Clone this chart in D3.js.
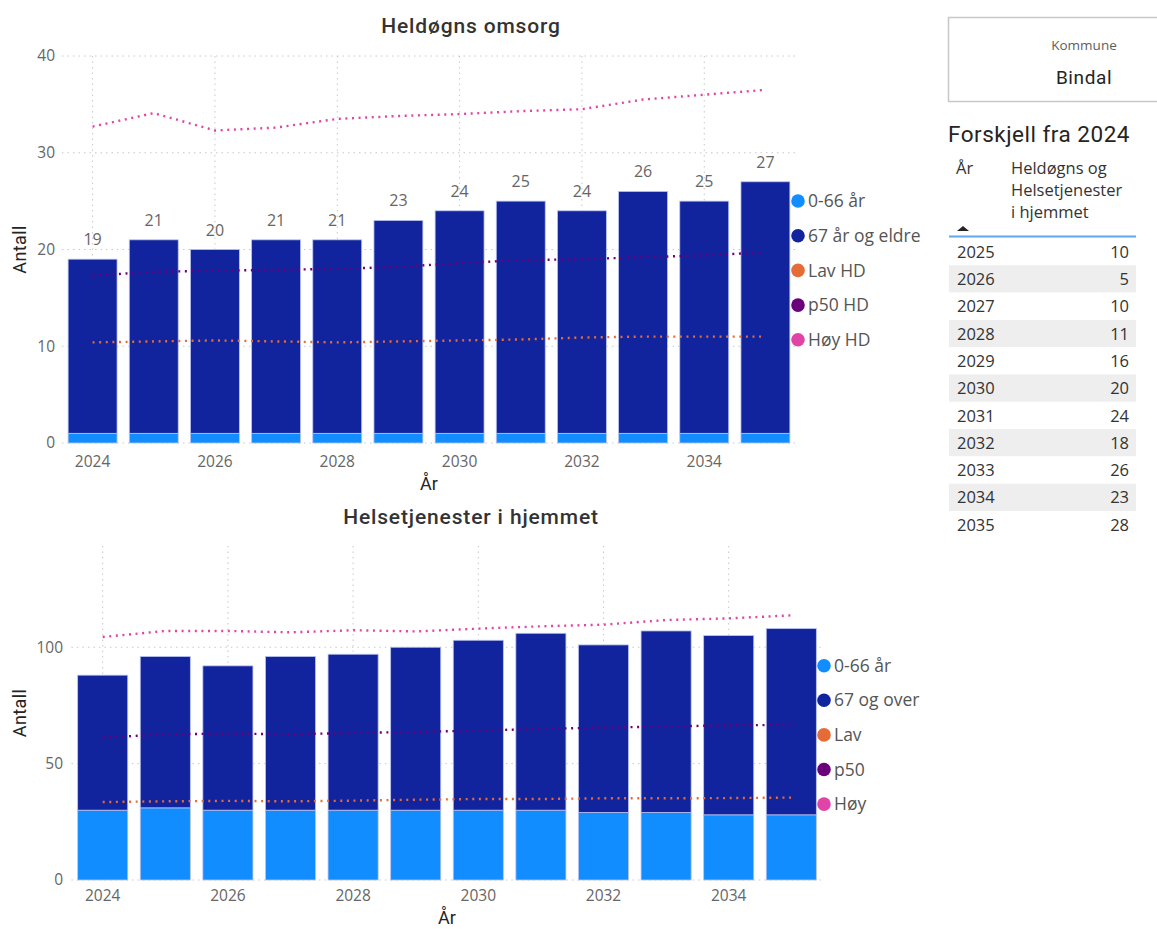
<!DOCTYPE html>
<html><head><meta charset="utf-8">
<script src="https://cdn.jsdelivr.net/npm/d3@7"></script>
<style>
body{margin:0;background:#fff;}
svg{display:block;font-family:"Open Sans",sans-serif;}
</style>
</head><body>
<svg id="c" width="1157" height="929"></svg>
<script>
const years=[2024,2025,2026,2027,2028,2029,2030,2031,2032,2033,2034,2035];
const xTickYears=[2024,2026,2028,2030,2032,2034];

// Heldøgns omsorg
const hdYoung=[1,1,1,1,1,1,1,1,1,1,1,1];
const hdOld=[18,20,19,20,20,22,23,24,23,25,24,26];
const hdLav=[10.4,10.5,10.6,10.5,10.4,10.5,10.6,10.7,10.9,11.0,11.0,11.0];
const hdP50=[17.3,17.7,17.8,17.9,18.0,18.2,18.6,18.9,19.0,19.2,19.4,19.7];
const hdHoy=[32.7,34.1,32.3,32.6,33.5,33.8,34.0,34.3,34.5,35.5,36.0,36.5];
const hdTicks=[0,10,20,30,40];

// Helsetjenester i hjemmet
const hjYoung=[30,31,30,30,30,30,30,30,29,29,28,28];
const hjOld=[58,65,62,66,67,70,73,76,72,78,77,80];
const hjLav=[33.5,33.8,34.0,33.8,34.1,34.5,34.8,34.8,35.1,35.1,35.2,35.4];
const hjP50=[61.2,62.6,62.9,62.6,63.2,63.6,64.2,64.9,65.5,65.9,66.5,66.6];
const hjHoy=[104.4,107.0,107.0,106.4,107.3,106.8,108.0,109.0,109.7,111.7,112.4,113.7];
const hjTicks=[0,50,100];

const hdLegend=["0-66 år","67 år og eldre","Lav HD","p50 HD","Høy HD"];
const hjLegend=["0-66 år","67 og over","Lav","p50","Høy"];

const colors={young:"#118DFF",old:"#12239E",lav:"#E66C37",p50:"#6B007B",hoy:"#E044A7"};
const legendColors=[colors.young,colors.old,colors.lav,colors.p50,colors.hoy];

const svg=d3.select("#c");

function drawChart(o){
  const g=svg.append("g");
  const x=d3.scaleBand().domain(years).range(o.xr).paddingInner(0.2).paddingOuter(0.1);
  const y=d3.scaleLinear().domain(o.yd).range(o.yr);
  // grid horizontal
  g.selectAll(".hg").data(o.ticks).join("line")
    .attr("x1",o.xr[0]).attr("x2",o.xr[1])
    .attr("y1",d=>y(d)).attr("y2",d=>y(d))
    .attr("stroke","#c8c8c8").attr("stroke-width",1).attr("stroke-dasharray","1.5,4");
  // grid vertical
  g.selectAll(".vg").data(xTickYears).join("line")
    .attr("x1",d=>x(d)+x.bandwidth()/2).attr("x2",d=>x(d)+x.bandwidth()/2)
    .attr("y1",o.yr[1]).attr("y2",o.yr[0])
    .attr("stroke","#c8c8c8").attr("stroke-width",1).attr("stroke-dasharray","1.5,4");
  // y tick labels
  const yAxis=d3.axisLeft(y).tickValues(o.ticks).tickSize(0).tickPadding(0);
  const ya=g.append("g").attr("transform",`translate(${o.yLabelX},0)`).call(yAxis);
  ya.select(".domain").remove();
  ya.selectAll("text").attr("font-size",15.5).attr("fill","#666").attr("font-family","Open Sans");
  // x tick labels
  const xAxis=d3.axisBottom(x).tickValues(xTickYears).tickSize(0).tickPadding(0);
  const xa=g.append("g").attr("transform",`translate(0,${o.xLabelY})`).call(xAxis);
  xa.select(".domain").remove();
  xa.selectAll("text").attr("font-size",15.5).attr("fill","#666").attr("font-family","Open Sans").attr("dy","0.35em");
  // bars
  const stacks=years.map((yr,i)=>({yr,young:o.young[i],old:o.old[i]}));
  g.selectAll(".by").data(stacks).join("rect")
    .attr("x",d=>x(d.yr)).attr("width",x.bandwidth())
    .attr("y",d=>y(d.young)).attr("height",d=>y(0)-y(d.young))
    .attr("fill",colors.young).attr("stroke","#b9c3f0").attr("stroke-width",0.8);
  g.selectAll(".bo").data(stacks).join("rect")
    .attr("x",d=>x(d.yr)).attr("width",x.bandwidth())
    .attr("y",d=>y(d.young+d.old)).attr("height",d=>y(d.young)-y(d.young+d.old))
    .attr("fill",colors.old).attr("stroke","#b9c3f0").attr("stroke-width",0.8);
  if(o.labels){
    g.selectAll(".dl").data(stacks).join("text")
      .attr("x",d=>x(d.yr)+x.bandwidth()/2).attr("y",d=>y(d.young+d.old)-14)
      .attr("text-anchor","middle").attr("font-size",16).attr("fill","#666")
      .text(d=>d.young+d.old);
  }
  // lines
  const line=d3.line().x((d,i)=>x(years[i])+x.bandwidth()/2).y(d=>y(d));
  [[o.lav,colors.lav],[o.p50,colors.p50],[o.hoy,colors.hoy]].forEach(([arr,c])=>{
    g.append("path").datum(arr).attr("d",line).attr("fill","none")
      .attr("stroke",c).attr("stroke-width",2.4).attr("stroke-dasharray","2,4.6");
  });
  // title
  g.append("text").attr("x",o.titleX).attr("y",o.titleY).attr("text-anchor","middle")
    .attr("font-family","Roboto").attr("font-weight",500).attr("font-size",21)
    .attr("letter-spacing","0.85px").attr("fill","#333")
    .text(o.title);
  // axis titles
  g.append("text").attr("x",(o.xr[0]+o.xr[1])/2).attr("y",o.xTitleY).attr("text-anchor","middle")
    .attr("font-family","Roboto").attr("font-size",18).attr("font-weight",400).attr("fill","#252423").text("År");
  g.append("text").attr("transform",`translate(26,${(o.yr[0]+o.yr[1])/2}) rotate(-90)`)
    .attr("text-anchor","middle").attr("font-family","Roboto").attr("font-size",18).attr("font-weight",400)
    .attr("letter-spacing","0.4px").attr("fill","#252423").text("Antall");
  // legend
  const lg=g.selectAll(".lg").data(o.legend).join("g")
    .attr("transform",(d,i)=>`translate(${o.legX},${o.legY+i*o.legStep})`);
  lg.append("circle").attr("r",6.8).attr("fill",(d,i)=>legendColors[i]);
  lg.append("text").attr("x",10).attr("dy","0.35em").attr("font-size",17.5).attr("fill","#555").text(d=>d);
}

drawChart({xr:[62,796],yd:[0,40],yr:[443,56],ticks:hdTicks,young:hdYoung,old:hdOld,
  lav:hdLav,p50:hdP50,hoy:hdHoy,labels:true,yLabelX:55,xLabelY:462,
  title:"Heldøgns omsorg",titleX:471,titleY:33,xTitleY:490,
  legend:hdLegend,legX:798,legY:201,legStep:34.7});

drawChart({xr:[71.4,822.6],yd:[0,143.5],yr:[880,546],ticks:hjTicks,young:hjYoung,old:hjOld,
  lav:hjLav,p50:hjP50,hoy:hjHoy,labels:false,yLabelX:63,xLabelY:896,
  title:"Helsetjenester i hjemmet",titleX:471,titleY:524,xTitleY:924,
  legend:hjLegend,legX:824,legY:665.7,legStep:34.6});

// Right panel: slicer
const rp=svg.append("g");
rp.append("rect").attr("x",948.5).attr("y",17.5).attr("width",230).attr("height",84)
  .attr("fill","#fff").attr("stroke","#c8c8c8").attr("stroke-width",1.5);
rp.append("text").attr("x",1084).attr("y",50).attr("text-anchor","middle").attr("font-size",13.5).attr("fill","#605E5C").text("Kommune");
rp.append("text").attr("x",1084).attr("y",84).attr("text-anchor","middle").attr("font-family","Roboto").attr("font-size",19).attr("letter-spacing","0.6px").attr("fill","#252423").text("Bindal");

// Table: difference from 2024 (sum of both services)
const totals=years.map((yr,i)=>hdYoung[i]+hdOld[i]+hjYoung[i]+hjOld[i]);
const diffRows=years.slice(1).map((yr,i)=>({yr,v:totals[i+1]-totals[0]}));
rp.append("text").attr("x",948).attr("y",142).attr("font-family","Roboto").attr("font-size",22.5).attr("letter-spacing","0.5px").attr("fill","#252423").text("Forskjell fra 2024");
rp.append("text").attr("x",956).attr("y",174).attr("font-size",16.5).attr("fill","#333").text("År");
["Heldøgns og","Helsetjenester","i hjemmet"].forEach((t,i)=>{
  rp.append("text").attr("x",1011).attr("y",174+i*22).attr("font-size",16.5).attr("fill","#333").text(t);
});
rp.append("path").attr("d","M957,231 L969,231 L963,226 Z").attr("fill","#252423");
rp.append("line").attr("x1",949).attr("x2",1136).attr("y1",236.5).attr("y2",236.5).attr("stroke","#5FA8F0").attr("stroke-width",2);
const rows=rp.selectAll(".row").data(diffRows).join("g").attr("transform",(d,i)=>`translate(0,${252+i*27.3})`);
rows.append("rect").attr("x",949).attr("y",-14).attr("width",187).attr("height",27.3)
  .attr("fill",(d,i)=>i%2===1?"#eeeeee":"#fff");
rows.append("text").attr("x",957).attr("dy","0.35em").attr("font-size",16.5).attr("fill","#333").text(d=>d.yr);
rows.append("text").attr("x",1129).attr("dy","0.35em").attr("text-anchor","end").attr("font-size",16.5).attr("fill","#333").text(d=>d.v);
</script>
</body></html>
